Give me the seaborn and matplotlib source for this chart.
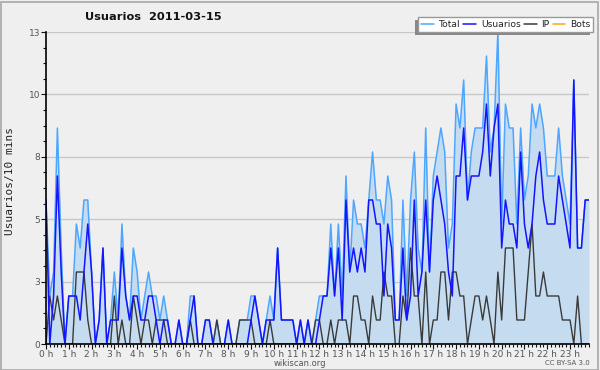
import numpy as np
import pandas as pd
import matplotlib
matplotlib.use("Agg")
import matplotlib.pyplot as plt
import seaborn as sns
from matplotlib.patches import Rectangle
from matplotlib.lines import Line2D
from matplotlib.ticker import FixedLocator, MultipleLocator

# ---- data (users per 10-minute slot, 2011-03-15) ----
hour_labels = [f"{h} h" for h in range(24)]
total = [6, 2, 3, 9, 4, 0, 2, 2, 5, 4, 6, 6, 3, 0, 1, 4, 0, 1, 3, 1, 5, 2, 1, 4,
         3, 1, 2, 3, 2, 2, 1, 2, 1, 0, 0, 1, 0, 0, 2, 2, 0, 0, 1, 1, 0, 1, 0, 0,
         1, 0, 0, 1, 1, 1, 2, 2, 1, 0, 1, 2, 1, 4, 1, 1, 1, 1, 0, 1, 0, 1, 0, 1,
         2, 2, 2, 5, 2, 5, 2, 7, 3, 6, 5, 5, 4, 6, 8, 6, 6, 5, 7, 6, 1, 1, 6, 2,
         6, 8, 4, 3, 9, 3, 7, 8, 9, 8, 4, 5, 10, 9, 11, 6, 8, 9, 9, 9, 12, 8, 9, 13,
         5, 10, 9, 9, 5, 9, 6, 7, 10, 9, 10, 9, 7, 7, 7, 9, 7, 6, 5, 11, 4, 4, 6, 6]
usuarios = [6, 0, 2, 7, 3, 0, 2, 2, 2, 1, 3, 5, 3, 0, 1, 4, 0, 1, 1, 1, 4, 2, 1, 2,
            2, 1, 1, 2, 2, 1, 0, 1, 1, 0, 0, 1, 0, 0, 1, 2, 0, 0, 1, 1, 0, 0, 0, 0,
            1, 0, 0, 0, 0, 0, 1, 2, 1, 0, 1, 1, 1, 4, 1, 1, 1, 1, 0, 1, 0, 1, 0, 0,
            1, 2, 2, 4, 2, 4, 1, 6, 3, 4, 3, 4, 3, 6, 6, 5, 5, 2, 5, 4, 1, 1, 4, 1,
            2, 6, 2, 3, 6, 3, 6, 7, 6, 5, 3, 2, 7, 7, 9, 6, 7, 7, 7, 8, 10, 7, 9, 10,
            4, 6, 5, 5, 4, 8, 5, 4, 5, 7, 8, 6, 5, 5, 5, 7, 6, 5, 4, 11, 4, 4, 6, 6]
ip = [0, 2, 1, 2, 1, 0, 0, 0, 3, 3, 3, 1, 0, 0, 0, 0, 0, 0, 2, 0, 1, 0, 0, 2,
      1, 0, 1, 1, 0, 1, 1, 1, 0, 0, 0, 0, 0, 0, 1, 0, 0, 0, 0, 0, 0, 1, 0, 0,
      0, 0, 0, 1, 1, 1, 1, 0, 0, 0, 0, 1, 0, 0, 0, 0, 0, 0, 0, 0, 0, 0, 0, 1,
      1, 0, 0, 1, 0, 1, 1, 1, 0, 2, 2, 1, 1, 0, 2, 1, 1, 3, 2, 2, 0, 0, 2, 1,
      4, 2, 2, 0, 3, 0, 1, 1, 3, 3, 1, 3, 3, 2, 2, 0, 1, 2, 2, 1, 2, 1, 0, 3,
      1, 4, 4, 4, 1, 1, 1, 3, 5, 2, 2, 3, 2, 2, 2, 2, 1, 1, 1, 0, 2, 0, 0, 0]
bots = [0] * 144
ytick_values = [0, 2.6, 5.2, 7.8, 10.4, 13]
ytick_labels = ["0", "3", "5", "8", "10", "13"]

slots = np.arange(len(total))
df = pd.DataFrame({"slot": slots, "Total": total, "Usuarios": usuarios,
                   "IP": ip, "Bots": bots})

# ---- style ----
sns.set_style("ticks")
plt.rcParams["font.family"] = ["DejaVu Sans"]
BG = "#efeff0"
C_TOTAL = "#4da6ff"
C_FILL = "#c5dcf0"
C_USR = "#1414ff"
C_IP = "#3a3a3a"
C_BOTS = "#ffa020"

W, H = 600, 370
fig = plt.figure(figsize=(W / 100, H / 100), dpi=100, facecolor=BG)
ax = fig.add_axes([46 / W, 1 - 344 / H, (589 - 46) / W, (344 - 32) / H])
ax.set_facecolor(BG)

ax.fill_between(df["slot"], df["Total"], 0, color=C_FILL, lw=0, zorder=1)
sns.lineplot(data=df, x="slot", y="Total", ax=ax, color=C_TOTAL, lw=1.1, zorder=3)
sns.lineplot(data=df, x="slot", y="Bots", ax=ax, color=C_BOTS, lw=1.0, zorder=2)
sns.lineplot(data=df, x="slot", y="IP", ax=ax, color=C_IP, lw=1.0, zorder=4)
sns.lineplot(data=df, x="slot", y="Usuarios", ax=ax, color=C_USR, lw=1.1, zorder=5)

ax.set_xlim(0, 143)
ax.set_ylim(0, 13)
ax.set_xlabel("")
ax.set_ylabel("")

ax.yaxis.set_major_locator(FixedLocator(ytick_values))
ax.set_yticklabels(ytick_labels)
ax.yaxis.set_minor_locator(MultipleLocator(0.65))
ax.xaxis.set_major_locator(FixedLocator(np.arange(0, 144, 6)))
ax.set_xticklabels(hour_labels)
ax.xaxis.set_minor_locator(MultipleLocator(1))

ax.tick_params(axis="both", which="major", labelsize=6.5, colors="#111111",
               labelcolor="#555555", length=3.5, width=0.8, pad=0.5)
ax.tick_params(axis="both", which="minor", length=2.5, width=0.8, colors="#111111")
ax.grid(axis="y", which="major", color="#c8c8c8", lw=1, zorder=0)
ax.set_axisbelow(True)
for s in ["top", "right"]:
    ax.spines[s].set_visible(False)
for s in ["left", "bottom"]:
    ax.spines[s].set_color("#000000")
    ax.spines[s].set_linewidth(1.2)
    ax.spines[s].set_zorder(6)

# title, labels, footers
fig.text(85 / W, 1 - 17 / H, "Usuarios  2011-03-15", fontsize=8.2,
         fontweight="bold", ha="left", va="center", color="#111111")
fig.text(10 / W, 1 - 181 / H, "Usuarios/10 mins", rotation=90,
         family=["DejaVu Sans Mono"], fontsize=8, ha="center", va="center",
         color="#222222")
fig.text(300 / W, 1 - 363 / H, "wikiscan.org", fontsize=6.0, ha="center",
         va="center", color="#555555")
fig.text(590 / W, 1 - 363 / H, "CC BY-SA 3.0", fontsize=5.0, ha="right",
         va="center", color="#555555")

# legend
handles = [Line2D([], [], color=C_TOTAL, lw=1.1),
           Line2D([], [], color=C_USR, lw=1.1),
           Line2D([], [], color=C_IP, lw=1.1),
           Line2D([], [], color=C_BOTS, lw=1.1)]
leg = fig.legend(handles, ["Total", "Usuarios", "IP", "Bots"], ncol=4,
                 loc="upper right", bbox_to_anchor=(593 / W, 1 - 17 / H),
                 bbox_transform=fig.transFigure, fontsize=6.6, frameon=True,
                 fancybox=False, borderpad=0.3, handlelength=1.4,
                 handletextpad=0.5, columnspacing=0.35, borderaxespad=0)
leg.get_frame().set_edgecolor("#999999")
leg.get_frame().set_facecolor("white")
leg.get_frame().set_alpha(1)
leg.get_frame().set_linewidth(1)
leg.set_zorder(10)
for t in leg.get_texts():
    t.set_color("#222222")

fig.canvas.draw()
bb = leg.get_window_extent()
shadow = Rectangle((bb.x0 - 3, bb.y0 - 3), bb.width, bb.height,
                   transform=None, facecolor="#888888", edgecolor="none",
                   zorder=9)
fig.add_artist(shadow)

# outer frame
fig.add_artist(Rectangle((0.5 / W, 0.5 / H), 1 - 2.5 / W, 1 - 2.5 / H,
                         transform=fig.transFigure, fill=False,
                         edgecolor="#a8a8a8", lw=1.2, zorder=20))

fig.savefig("out.png", dpi=100, facecolor=BG)
